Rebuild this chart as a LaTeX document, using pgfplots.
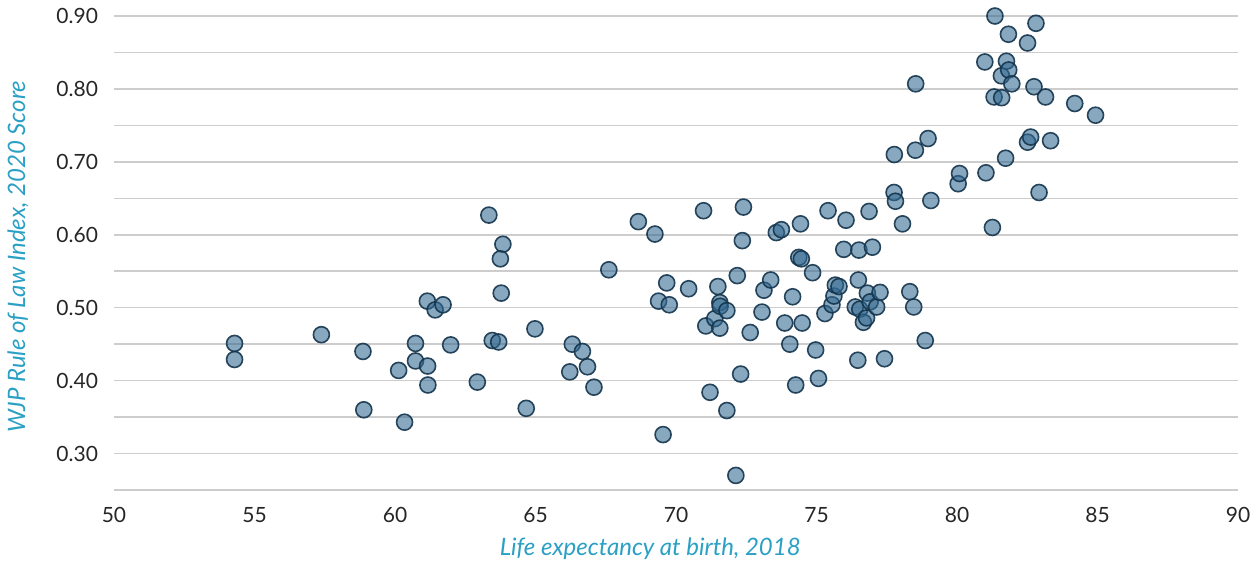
\documentclass[border=0pt]{standalone}
\usepackage{pgfplots}
\pgfplotsset{compat=1.18}
\usepackage{fontspec}
\setmainfont{Lato}
\definecolor{labteal}{RGB}{42,160,196}
\definecolor{mfill}{RGB}{50,105,145}
\definecolor{medge}{RGB}{20,52,76}
\definecolor{gridc}{RGB}{205,205,205}
\begin{document}
\begin{tikzpicture}
\useasboundingbox (-57pt,-36.5pt) rectangle (571.5pt,245pt);
\begin{axis}[
  at={(0,0)}, anchor=south west,
  scale only axis, width=562pt, height=237pt,
  xmin=50, xmax=90, ymin=0.25, ymax=0.90,
  axis line style={draw=none},
  tick style={draw=none},
  xtick={50,55,...,90},
  ytick={0.3,0.4,0.5,0.6,0.7,0.8,0.9},
  minor ytick={0.25,0.35,0.45,0.55,0.65,0.75,0.85},
  ymajorgrids, yminorgrids,
  major grid style={gridc, line width=0.75pt},
  minor grid style={gridc, line width=0.75pt},
  /pgf/number format/assume math mode=true,
  yticklabel style={/pgf/number format/fixed, /pgf/number format/precision=2, /pgf/number format/fixed zerofill, font=\fontsize{10.5}{12}\selectfont, text=black!85, xshift=-4.5pt},
  xticklabel style={font=\fontsize{10.5}{12}\selectfont, text=black!85, yshift=-5pt},
  xlabel={Life expectancy at birth, 2018},
  ylabel={WJP Rule of Law Index, 2020 Score},
  xlabel style={at={(axis description cs:0.477,-0.124)}, anchor=center, font=\fontsize{12}{14}\selectfont\itshape, text=labteal},
  ylabel style={at={(axis description cs:-0.0854,0.492)}, anchor=center, rotate=0, font=\fontsize{12}{14}\selectfont\itshape, text=labteal},
  clip=false,
]
\addplot[only marks, mark=*, mark size=4pt,
  mark options={fill=mfill, fill opacity=0.58, draw=medge, draw opacity=0.9, line width=0.8pt}]
  table {
x y
54.29 0.451
54.29 0.429
57.38 0.463
58.86 0.440
58.89 0.360
60.13 0.414
60.34 0.343
60.73 0.451
60.73 0.427
61.15 0.509
61.16 0.420
61.17 0.394
61.43 0.497
61.71 0.504
61.98 0.449
62.93 0.398
63.34 0.627
63.46 0.455
63.69 0.453
63.84 0.587
63.75 0.567
63.78 0.520
64.67 0.362
64.98 0.471
66.22 0.412
66.31 0.450
66.67 0.440
66.85 0.419
67.08 0.391
67.61 0.552
68.66 0.618
69.25 0.601
69.54 0.326
69.38 0.509
69.67 0.534
69.76 0.504
70.45 0.526
70.98 0.633
71.06 0.475
71.21 0.384
71.38 0.485
71.49 0.529
71.56 0.507
71.57 0.502
71.56 0.472
71.81 0.359
71.81 0.496
72.13 0.270
72.18 0.544
72.30 0.409
72.40 0.638
72.36 0.592
72.64 0.466
73.06 0.494
73.13 0.524
73.37 0.538
73.57 0.603
73.75 0.607
73.87 0.479
74.05 0.450
74.15 0.515
74.26 0.394
74.37 0.569
74.46 0.567
74.43 0.615
74.49 0.479
74.86 0.548
74.97 0.442
75.07 0.403
75.30 0.492
75.41 0.633
75.55 0.504
75.62 0.516
75.67 0.531
75.80 0.529
75.97 0.580
76.05 0.620
76.38 0.501
76.47 0.428
76.51 0.579
76.49 0.538
76.54 0.498
76.67 0.480
76.78 0.486
76.81 0.520
76.87 0.632
76.99 0.583
76.91 0.508
77.14 0.501
77.26 0.521
77.42 0.430
77.77 0.710
77.76 0.658
77.81 0.646
78.06 0.615
78.32 0.522
78.46 0.501
78.52 0.716
78.53 0.807
78.87 0.455
78.97 0.732
79.07 0.647
80.04 0.670
80.09 0.684
80.99 0.837
81.03 0.685
81.26 0.610
81.35 0.900
81.32 0.789
81.59 0.788
81.58 0.818
81.76 0.838
81.83 0.875
81.84 0.826
81.95 0.807
81.73 0.705
82.51 0.863
82.51 0.727
82.62 0.734
82.74 0.803
82.81 0.890
82.92 0.658
83.15 0.789
83.33 0.729
84.19 0.780
84.93 0.764
};
\end{axis}
\end{tikzpicture}
\end{document}
